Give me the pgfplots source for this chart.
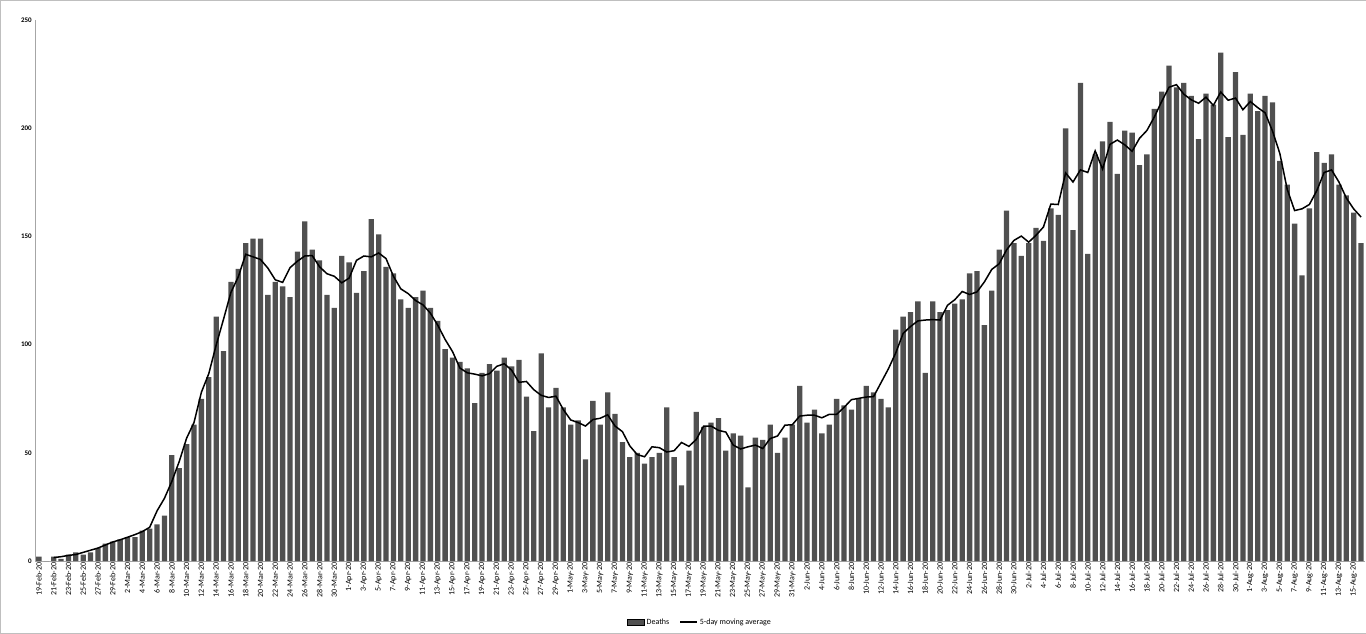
\documentclass[border=0pt]{standalone}
\usepackage{pgfplots}
\usepackage{pgfplotstable}
\pgfplotsset{compat=1.18}
\usepackage{fontspec}
\setmainfont{Carlito}
\pgfplotstableread{
i d m
0 2 nan
1 0 nan
2 2 1.6
3 1 2
4 3 2.6
5 4 3
6 3 4
7 4 5
8 6 6
9 8 7.4
10 9 8.8
11 10 9.8
12 11 11
13 11 12.2
14 14 13.6
15 15 15.6
16 17 23.2
17 21 29
18 49 36.8
19 43 46
20 54 56.8
21 63 64
22 75 78
23 85 86.6
24 113 99.8
25 97 111.8
26 129 124.2
27 135 131.4
28 147 141.8
29 149 140.6
30 149 139.4
31 123 135.4
32 129 130
33 127 128.8
34 122 135.6
35 143 138.6
36 157 141
37 144 141.2
38 139 136
39 123 132.8
40 117 131.6
41 141 128.6
42 138 130.8
43 124 139
44 134 141
45 158 140.6
46 151 142.4
47 136 139.8
48 133 131.6
49 121 125.8
50 117 123.6
51 122 120.4
52 125 118.4
53 117 114.6
54 111 109
55 98 102.4
56 94 96.8
57 92 89.2
58 89 87
59 73 86.4
60 87 85.6
61 91 86.6
62 88 90
63 94 91.2
64 90 88.2
65 93 82.6
66 76 83
67 60 79.2
68 96 76.6
69 71 75.6
70 80 76.2
71 71 70
72 63 65.2
73 65 64
74 47 62.4
75 74 65.4
76 63 66
77 78 67.6
78 68 62.4
79 55 59.8
80 48 53.2
81 50 49.2
82 45 48.2
83 48 52.8
84 50 52.4
85 71 50.4
86 48 51
87 35 54.8
88 51 53
89 69 56.2
90 62 62.4
91 64 62.4
92 66 60.4
93 51 59.6
94 59 53.6
95 58 51.8
96 34 52.8
97 57 53.6
98 56 52
99 63 56.6
100 50 57.8
101 57 62.8
102 63 63
103 81 67
104 64 67.4
105 70 67.4
106 59 66.2
107 63 67.8
108 75 67.8
109 72 71
110 70 74.6
111 75 75.2
112 81 75.8
113 78 76
114 75 82.4
115 71 88.8
116 107 96.2
117 113 105.2
118 115 108.4
119 120 111
120 87 111.4
121 120 111.6
122 115 111.4
123 116 118.2
124 119 120.8
125 121 124.6
126 133 123.2
127 134 124.4
128 109 129
129 125 134.8
130 144 137.4
131 162 143.8
132 147 148.2
133 141 150.2
134 147 147.4
135 154 150.6
136 148 154.4
137 163 165
138 160 164.8
139 200 179.4
140 153 175.2
141 221 180.8
142 142 179.6
143 188 189.6
144 194 181.2
145 203 192.6
146 179 194.6
147 199 192.4
148 198 189.4
149 183 195.4
150 188 199
151 209 205.2
152 217 212.4
153 229 219
154 219 220.2
155 221 215.8
156 215 213.2
157 195 211.6
158 216 214.4
159 211 210.6
160 235 216.8
161 196 213
162 226 214
163 197 208.6
164 216 212.4
165 208 209.6
166 215 207.2
167 212 198.8
168 185 188.4
169 174 171.8
170 156 162
171 132 162.8
172 163 164.8
173 189 171.2
174 184 179.6
175 188 180.8
176 174 175.2
177 169 167.8
178 161 162.75
179 147 159
}\data
\definecolor{bargray}{HTML}{505050}
\begin{document}
\begin{tikzpicture}
\path[draw=gray!50] (0,0) rectangle (1366pt,633pt);
\begin{axis}[
  at={(35pt,72pt)}, anchor=south west,
  scale only axis, width=1330pt, height=541pt,
  xmin=-0.5, xmax=179.5, ymin=0, ymax=250,
  axis x line*=bottom, axis y line*=left,
  axis line style={gray!70},
  ytick={0,50,100,150,200,250},
  yticklabel style={font=\fontsize{7}{8}\selectfont\bfseries},
  /pgf/number format/assume math mode=true,
  xtick={0,2,...,178},
  xticklabels={19-Feb-20,21-Feb-20,23-Feb-20,25-Feb-20,27-Feb-20,29-Feb-20,
  2-Mar-20,4-Mar-20,6-Mar-20,8-Mar-20,10-Mar-20,12-Mar-20,14-Mar-20,16-Mar-20,18-Mar-20,20-Mar-20,22-Mar-20,24-Mar-20,26-Mar-20,28-Mar-20,30-Mar-20,
  1-Apr-20,3-Apr-20,5-Apr-20,7-Apr-20,9-Apr-20,11-Apr-20,13-Apr-20,15-Apr-20,17-Apr-20,19-Apr-20,21-Apr-20,23-Apr-20,25-Apr-20,27-Apr-20,29-Apr-20,
  1-May-20,3-May-20,5-May-20,7-May-20,9-May-20,11-May-20,13-May-20,15-May-20,17-May-20,19-May-20,21-May-20,23-May-20,25-May-20,27-May-20,29-May-20,31-May-20,
  2-Jun-20,4-Jun-20,6-Jun-20,8-Jun-20,10-Jun-20,12-Jun-20,14-Jun-20,16-Jun-20,18-Jun-20,20-Jun-20,22-Jun-20,24-Jun-20,26-Jun-20,28-Jun-20,30-Jun-20,
  2-Jul-20,4-Jul-20,6-Jul-20,8-Jul-20,10-Jul-20,12-Jul-20,14-Jul-20,16-Jul-20,18-Jul-20,20-Jul-20,22-Jul-20,24-Jul-20,26-Jul-20,28-Jul-20,30-Jul-20,
  1-Aug-20,3-Aug-20,5-Aug-20,7-Aug-20,9-Aug-20,11-Aug-20,13-Aug-20,15-Aug-20},
  xticklabel style={rotate=90, anchor=east, font=\fontsize{8}{9}\selectfont, inner sep=1.5pt},
  tick style={draw=none},
  legend style={at={(0.5,-0.113)}, anchor=center, draw=none, font=\fontsize{8}{9}\selectfont, legend columns=2, /tikz/every even column/.append style={column sep=8pt}},
  legend cell align=left,
]
\addplot[ybar, bar width=5.3pt, fill=bargray, draw=none, area legend] table[x=i, y=d] {\data};
\addlegendentry{Deaths}
\addplot[black, line width=1.5pt, mark=none] table[x=i, y=m] {\data};
\addlegendentry{5-day moving average}
\end{axis}
\end{tikzpicture}
\end{document}
